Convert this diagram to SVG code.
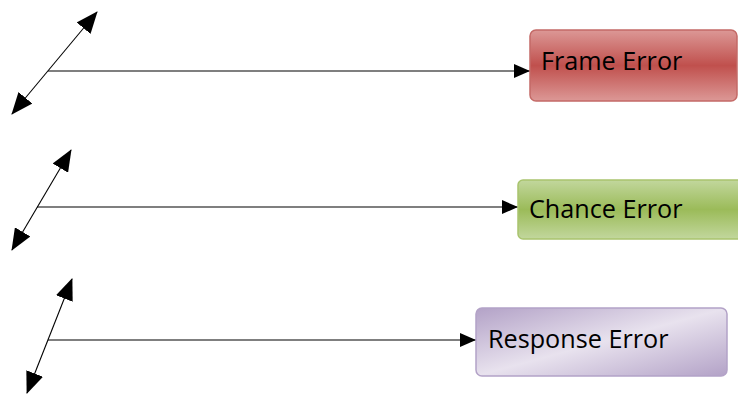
<svg xmlns="http://www.w3.org/2000/svg" width="738" height="396" viewBox="0 0 738 396">
<style>
.ln{stroke:#000;stroke-width:1.1;fill:none}
.dg{marker-start:url(#big);marker-end:url(#big)}
.hz{marker-end:url(#sm)}
.t{font-family:"Open Sans","Noto Sans",sans-serif;font-size:25.2px;fill:#000}
</style>
<defs>
<marker id="big" markerUnits="userSpaceOnUse" markerWidth="22" markerHeight="18" viewBox="0 0 22 18" refX="21" refY="9" orient="auto-start-reverse"><path d="M0,0 L22,9 L0,18 Z" fill="#000"/></marker>
<marker id="sm" markerUnits="userSpaceOnUse" markerWidth="16" markerHeight="14" viewBox="0 0 16 14" refX="16" refY="7" orient="auto"><path d="M0,0 L16,7 L0,14 Z" fill="#000"/></marker>
<linearGradient id="gr" x1="0" y1="0" x2="0" y2="1"><stop offset="0" stop-color="#dc9896"/><stop offset="0.5" stop-color="#c0504d"/><stop offset="1" stop-color="#dc9896"/></linearGradient>
<linearGradient id="gg" x1="0" y1="0" x2="0" y2="1"><stop offset="0" stop-color="#c2d79d"/><stop offset="0.5" stop-color="#9bbb59"/><stop offset="1" stop-color="#c2d79d"/></linearGradient>
<linearGradient id="gp" x1="0" y1="0" x2="1" y2="1"><stop offset="0" stop-color="#b3a2c7"/><stop offset="0.5" stop-color="#e8e2ee"/><stop offset="1" stop-color="#b3a2c7"/></linearGradient>
</defs>
<g id="connectors">
<line class="ln dg" x1="12" y1="114" x2="97" y2="12"/>
<line class="ln hz" x1="48" y1="71" x2="530" y2="71"/>
<line class="ln dg" x1="12" y1="250" x2="71" y2="150"/>
<line class="ln hz" x1="37" y1="207" x2="518" y2="207"/>
<line class="ln dg" x1="27" y1="393" x2="72" y2="279"/>
<line class="ln hz" x1="48" y1="340" x2="476" y2="340"/>
</g>
<g id="frame-error">
<rect x="530" y="30" width="207" height="71" rx="6" fill="url(#gr)" stroke="#c46a67" stroke-width="1.5"/>
<text class="t" x="541" y="70">Frame Error</text>
</g>
<g id="chance-error">
<rect x="518" y="180" width="225" height="59" rx="5" fill="url(#gg)" stroke="#a9c46e" stroke-width="1.5"/>
<text class="t" x="529" y="218">Chance Error</text>
</g>
<g id="response-error">
<rect x="476" y="308" width="251" height="68" rx="6" fill="url(#gp)" stroke="#b3a2c7" stroke-width="1.5"/>
<text class="t" x="488" y="348">Response Error</text>
</g>
</svg>
